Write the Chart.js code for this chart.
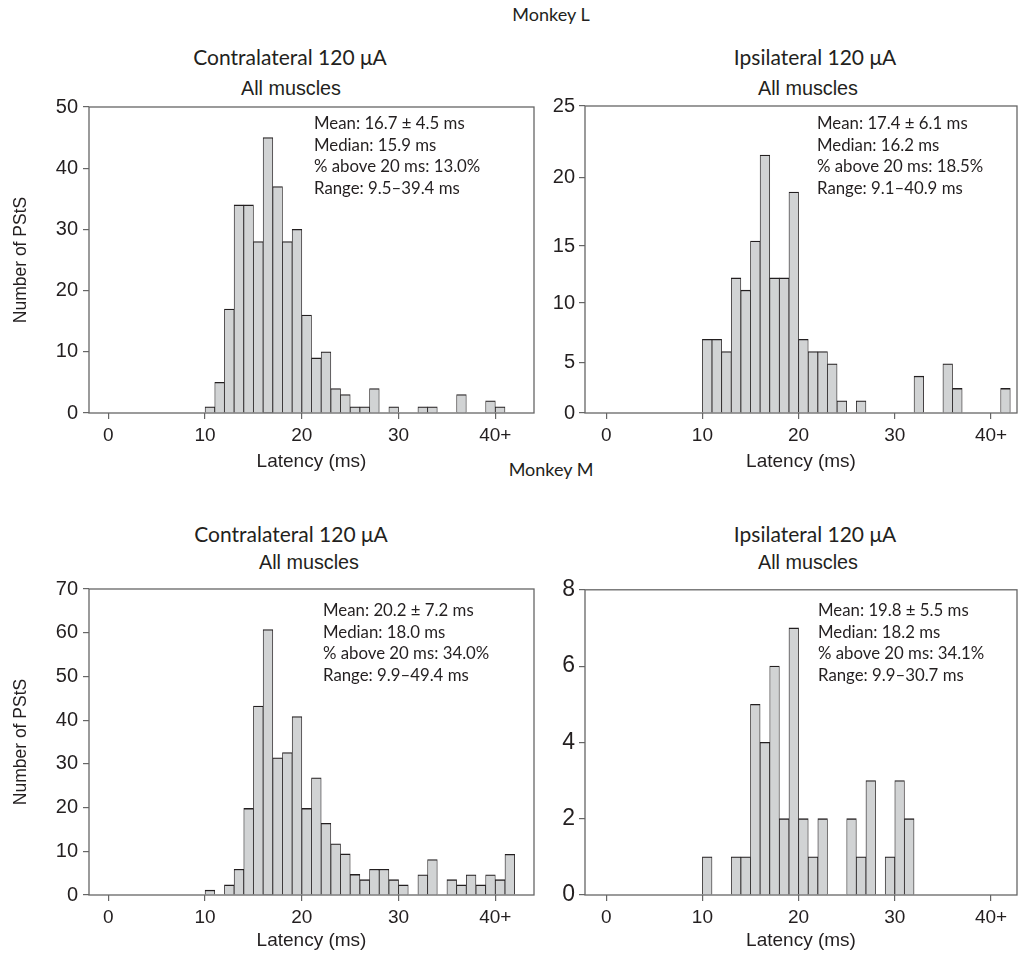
<!DOCTYPE html>
<html>
<head>
<meta charset="utf-8">
<script src="https://cdn.jsdelivr.net/npm/chart.js@4.4.1/dist/chart.umd.min.js"></script>
<style>
  body { margin: 0; background: #fff; }
  #fig { position: relative; width: 1020px; height: 953px; overflow: hidden; color: #231f20; }
  canvas { position: absolute; }
  .t { position: absolute; white-space: nowrap; transform: translate(-50%, -50%); }
  .head { font-family: Lato, sans-serif; font-size: 21px; }
  .monkey { font-family: Lato, sans-serif; font-size: 18px; }
  .sub { font-family: 'Liberation Sans', Arial, sans-serif; font-size: 19.8px; }
  .stats { position: absolute; font-family: Lato, sans-serif; font-size: 16.8px; line-height: 21.6px; white-space: nowrap; }
</style>
</head>
<body>
<div id="fig">
  <div class="t monkey" style="left:551px; top:14px;">Monkey L</div>
  <div class="t head" style="left:290px; top:56px;">Contralateral 120 μA</div>
  <div class="t sub" style="left:291px; top:88px;">All muscles</div>
  <div class="t head" style="left:815px; top:56px;">Ipsilateral 120 μA</div>
  <div class="t sub" style="left:808px; top:88px;">All muscles</div>

  <div class="t monkey" style="left:551px; top:469px;">Monkey M</div>
  <div class="t head" style="left:291px; top:533px;">Contralateral 120 μA</div>
  <div class="t sub" style="left:309px; top:562px;">All muscles</div>
  <div class="t head" style="left:815px; top:533px;">Ipsilateral 120 μA</div>
  <div class="t sub" style="left:808px; top:562px;">All muscles</div>

  <canvas id="contraL" width="545" height="385" style="left:0px; top:90px;"></canvas>
  <canvas id="ipsiL" width="480" height="385" style="left:540px; top:90px;"></canvas>
  <canvas id="contraM" width="545" height="385" style="left:0px; top:572px;"></canvas>
  <canvas id="ipsiM" width="480" height="385" style="left:540px; top:572px;"></canvas>

  <div class="stats" style="left:314px; top:112px;">Mean: 16.7 ± 4.5 ms<br>Median: 15.9 ms<br>% above 20 ms: 13.0%<br>Range: 9.5–39.4 ms</div>
  <div class="stats" style="left:817px; top:112px;">Mean: 17.4 ± 6.1 ms<br>Median: 16.2 ms<br>% above 20 ms: 18.5%<br>Range: 9.1–40.9 ms</div>
  <div class="stats" style="left:323px; top:599px;">Mean: 20.2 ± 7.2 ms<br>Median: 18.0 ms<br>% above 20 ms: 34.0%<br>Range: 9.9–49.4 ms</div>
  <div class="stats" style="left:818px; top:599px;">Mean: 19.8 ± 5.5 ms<br>Median: 18.2 ms<br>% above 20 ms: 34.1%<br>Range: 9.9–30.7 ms</div>
</div>

<script>
// latency bins are 1 ms wide, listed by their left edge (ms)
var xTickValues = [0, 10, 20, 30, 40];
var xTickLabels = ['0', '10', '20', '30', '40+'];

// Monkey L, contralateral
var contraLBins   = [10, 11, 12, 13, 14, 15, 16, 17, 18, 19, 20, 21, 22, 23, 24, 25, 26, 27, 29, 32, 33, 36, 39, 40];
var contraLCounts = [1, 5, 17, 34, 34, 28, 45, 37, 28, 30, 16, 9, 10, 4, 3, 1, 1, 4, 1, 1, 1, 3, 2, 1];
var contraLYTicks = [0, 10, 20, 30, 40, 50];
var contraLYLabels = ['0', '10', '20', '30', '40', '50'];

// Monkey L, ipsilateral
var ipsiLBins   = [10, 11, 12, 13, 14, 15, 16, 17, 18, 19, 20, 21, 22, 23, 24, 26, 32, 35, 36, 41];
var ipsiLCounts = [6, 6, 5, 11, 10, 14, 21, 11, 11, 18, 6, 5, 5, 4, 1, 1, 3, 4, 2, 2];
// the printed labels of this axis do not sit on even steps
var ipsiLYTicks = [0, 4.1, 8.95, 13.6, 19.2, 25];
var ipsiLYLabels = ['0', '5', '10', '15', '20', '25'];

// Monkey M, contralateral
var contraMBins   = [10, 12, 13, 14, 15, 16, 17, 18, 19, 20, 21, 22, 23, 24, 25, 26, 27, 28, 29, 30, 32, 33, 35, 36, 37, 38, 39, 40, 41];
var contraMCounts = [1.1, 2.3, 5.9, 19.8, 43.2, 60.7, 31.4, 32.6, 40.8, 19.8, 26.8, 16.4, 11.7, 9.4, 4.7, 3.5, 5.9, 5.9, 3.5, 2.3, 4.6, 8.1, 3.5, 2.3, 4.6, 2.3, 4.6, 3.5, 9.3];
var contraMYTicks = [0, 10, 20, 30, 40, 50, 60, 70];
var contraMYLabels = ['0', '10', '20', '30', '40', '50', '60', '70'];

// Monkey M, ipsilateral
var ipsiMBins   = [10, 13, 14, 15, 16, 17, 18, 19, 20, 21, 22, 25, 26, 27, 29, 30, 31];
var ipsiMCounts = [1, 1, 1, 5, 4, 6, 2, 7, 2, 1, 2, 2, 1, 3, 1, 3, 2];
var ipsiMYTicks = [0, 2, 4, 6, 8];
var ipsiMYLabels = ['0', '2', '4', '6', '8'];

var ink = '#231f20';
var axisGrey = '#666';
var sansFont = "'Liberation Sans', Arial, sans-serif";

// box around the plot area
var framePlugin = {
  id: 'frame',
  afterDatasetsDraw: function(chart) {
    var a = chart.chartArea;
    var ctx = chart.ctx;
    ctx.save();
    ctx.strokeStyle = axisGrey;
    ctx.lineWidth = 1.3;
    ctx.strokeRect(a.left, a.top, a.right - a.left, a.bottom - a.top);
    ctx.restore();
  }
};

function makeHist(id, bins, counts, yTicks, yLabels, o) {
  var points = bins.map(function(b, i) {
    return { x: b + 0.5, y: counts[i] };
  });

  return new Chart(id, {
    type: 'bar',
    data: {
      datasets: [{
        data: points,
        backgroundColor: '#d1d3d4',
        borderColor: ink,
        borderWidth: { top: 1.3, left: 0.8, right: 0.8, bottom: 0 },
        barPercentage: 1,
        categoryPercentage: 1
      }]
    },
    options: {
      responsive: false,
      animation: false,
      layout: { padding: { top: 13, right: o.padRight, left: 0, bottom: 0 } },
      plugins: { legend: { display: false }, tooltip: { enabled: false } },
      scales: {
        x: {
          type: 'linear',
          offset: false,
          min: o.xMin,
          max: o.xMax,
          afterBuildTicks: function(s) {
            s.ticks = xTickValues.map(function(v) { return { value: v }; });
          },
          afterFit: function(s) { s.height = 62; },
          grid: { offset: false, drawOnChartArea: false, drawTicks: true, tickLength: 6, color: axisGrey, lineWidth: 1.2 },
          border: { display: false },
          ticks: {
            autoSkip: false,
            maxRotation: 0,
            padding: 5,
            color: ink,
            font: { family: sansFont, size: 19 },
            callback: function(v, i) { return xTickLabels[i]; }
          },
          title: {
            display: true,
            text: 'Latency (ms)',
            color: ink,
            font: { family: sansFont, size: 19 },
            padding: { top: 0, bottom: o.titleBottom }
          }
        },
        y: {
          min: 0,
          max: yTicks[yTicks.length - 1],
          afterBuildTicks: function(s) {
            s.ticks = yTicks.map(function(v) { return { value: v }; });
          },
          afterFit: function(s) { s.width = o.yWidth; },
          grid: { drawOnChartArea: false, drawTicks: true, tickLength: 6, color: axisGrey, lineWidth: 1.2 },
          border: { display: false },
          ticks: {
            autoSkip: false,
            padding: o.yPad,
            color: ink,
            font: { family: sansFont, size: o.yFont },
            callback: function(v, i) { return yLabels[i]; }
          },
          title: {
            display: o.yTitle,
            text: 'Number of PStS',
            color: ink,
            font: { family: sansFont, size: 17.5 },
            padding: { top: 11, bottom: 0 }
          }
        }
      }
    },
    plugins: [framePlugin]
  });
}

makeHist('contraL', contraLBins, contraLCounts, contraLYTicks, contraLYLabels,
  { xMin: -2, xMax: 44, padRight: 11, yWidth: 89, yPad: 5, yFont: 20, yTitle: true, titleBottom: 2.2 });
makeHist('ipsiL', ipsiLBins, ipsiLCounts, ipsiLYTicks, ipsiLYLabels,
  { xMin: -2.2, xMax: 42.7, padRight: 3, yWidth: 45, yPad: 4, yFont: 20, yTitle: false, titleBottom: 2.2 });
makeHist('contraM', contraMBins, contraMCounts, contraMYTicks, contraMYLabels,
  { xMin: -2, xMax: 44, padRight: 11, yWidth: 89, yPad: 5, yFont: 20, yTitle: true, titleBottom: 5 });
makeHist('ipsiM', ipsiMBins, ipsiMCounts, ipsiMYTicks, ipsiMYLabels,
  { xMin: -2.2, xMax: 42.7, padRight: 3, yWidth: 45, yPad: 4, yFont: 23, yTitle: false, titleBottom: 5 });
</script>
</body>
</html>
